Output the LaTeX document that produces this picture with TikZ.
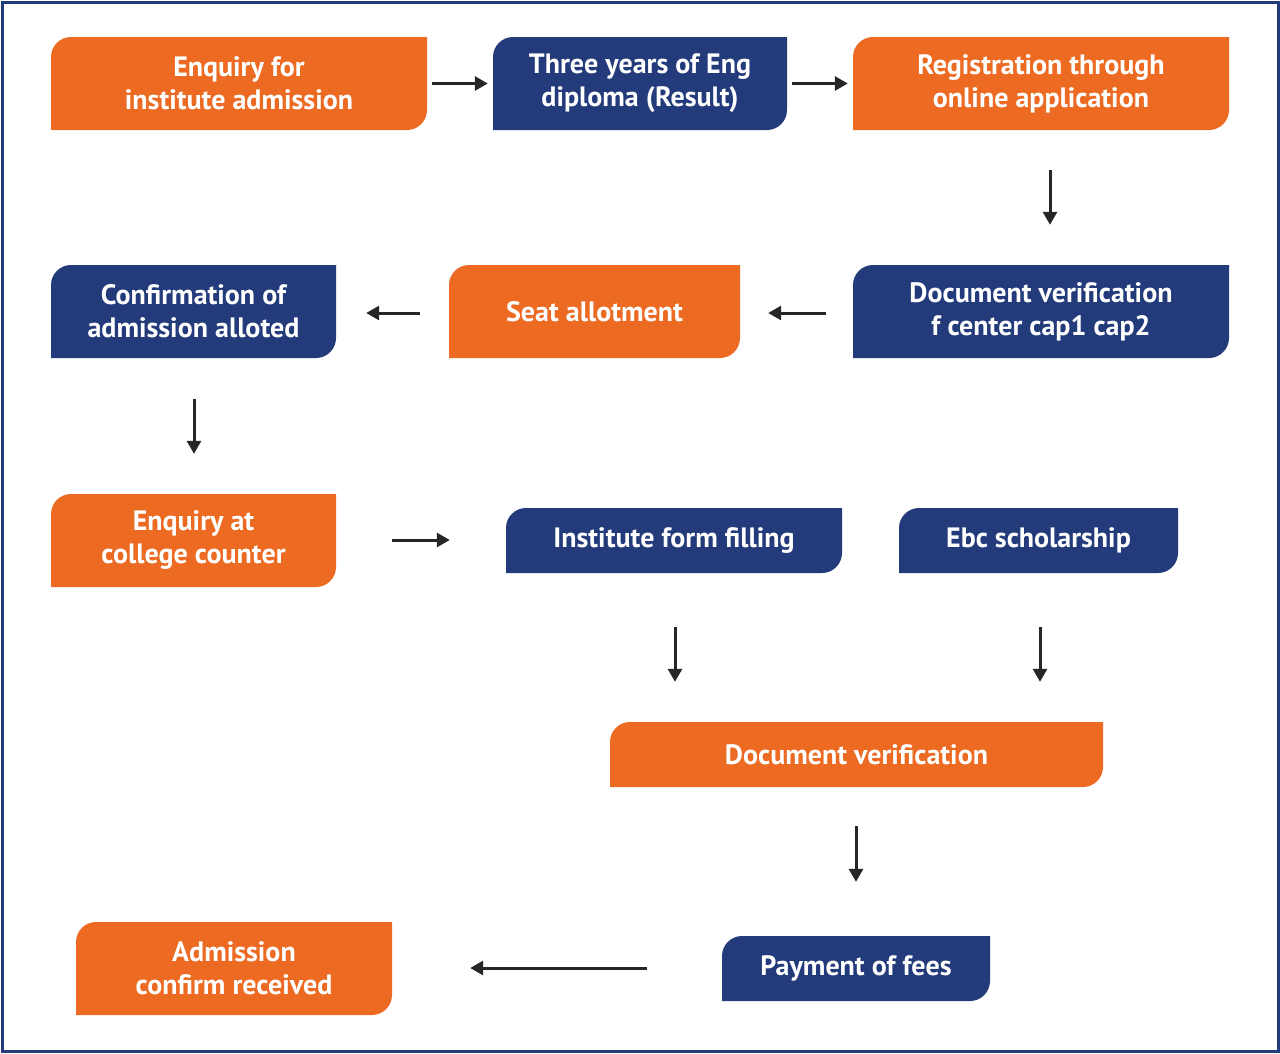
\documentclass[tikz,border=0pt]{standalone}
\usepackage{fontspec}
\setmainfont{PT Sans}
\usetikzlibrary{calc,arrows.meta}
\definecolor{org}{HTML}{EC6A22}
\definecolor{blu}{HTML}{233B7A}
\newcommand\leafbox[7]{%
  \fill[#6] (#2,#5) [rounded corners=20pt]-- (#2,#3) [sharp corners]-- (#4,#3) [rounded corners=20pt]-- (#4,#5) [sharp corners]-- cycle;
  \node[lbl, minimum width={(#4-#2)*1pt}, minimum height={(#5-#3)*1pt}] (#1) at ($(#2,#3)!0.5!(#4,#5)$) {#7};}
\begin{document}
\begin{tikzpicture}[x=1pt,y=-1pt,
  lbl/.style={inner sep=0pt,text=white,align=center,font=\fontsize{28}{33}\selectfont\bfseries},
  arr/.style={line width=3pt,black!85,-{Triangle[length=13pt,width=14pt]}}]
\useasboundingbox (0,0) rectangle (1280,1053);
\draw[blu,line width=3pt] (2,2) rectangle (1278,1051);
\leafbox{a}{51}{37}{427}{130}{org}{Enquiry for\\institute admission}
\leafbox{b}{493}{37}{787}{130}{blu}{Three years of Eng\\diploma (Result)}
\leafbox{c}{853}{37}{1229}{130}{org}{Registration through\\online application}
\leafbox{d}{853}{265}{1229}{358}{blu}{Document verification\\f center cap1 cap2}
\leafbox{e}{449}{265}{740}{358}{org}{Seat allotment}
\leafbox{f}{51}{265}{336}{358}{blu}{Confirmation of\\admission alloted}
\leafbox{g}{51}{494}{336}{587}{org}{Enquiry at\\college counter}
\leafbox{h}{506}{508}{842}{573}{blu}{Institute form filling}
\leafbox{i}{899}{508}{1178}{573}{blu}{Ebc scholarship}
\leafbox{j}{610}{722}{1103}{787}{org}{Document verification}
\leafbox{k}{722}{936}{990}{1001}{blu}{Payment of fees}
\leafbox{l}{76}{922}{392}{1015}{org}{Admission\\confirm received}
\draw[arr,shorten <=5pt,shorten >=5pt] (a) -- (b);
\draw[arr,shorten <=5pt,shorten >=5pt] (b) -- (c);
\draw[arr,shorten <=40pt,shorten >=40pt] (c.south -| 1050,0) -- (d.north -| 1050,0);
\draw[arr,shorten <=27pt,shorten >=28pt] (d.west |- 0,313) -- (e.east |- 0,313);
\draw[arr,shorten <=29pt,shorten >=30pt] (e.west |- 0,313) -- (f.east |- 0,313);
\draw[arr,shorten <=41pt,shorten >=40pt] (f.south -| 194,0) -- (g.north -| 194,0);
\draw[arr,shorten <=56pt,shorten >=56pt] (g.east |- 0,540) -- (h.west |- 0,540);
\draw[arr,shorten <=54pt,shorten >=40pt] (h.south -| 675,0) -- (j.north -| 675,0);
\draw[arr,shorten <=54pt,shorten >=40pt] (i.south -| 1040,0) -- (j.north -| 1040,0);
\draw[arr,shorten <=39pt,shorten >=54pt] (j.south -| 856,0) -- (k.north -| 856,0);
\draw[arr,shorten <=75pt,shorten >=78pt] (k.west |- 0,968) -- (l.east |- 0,968);
\end{tikzpicture}
\end{document}
